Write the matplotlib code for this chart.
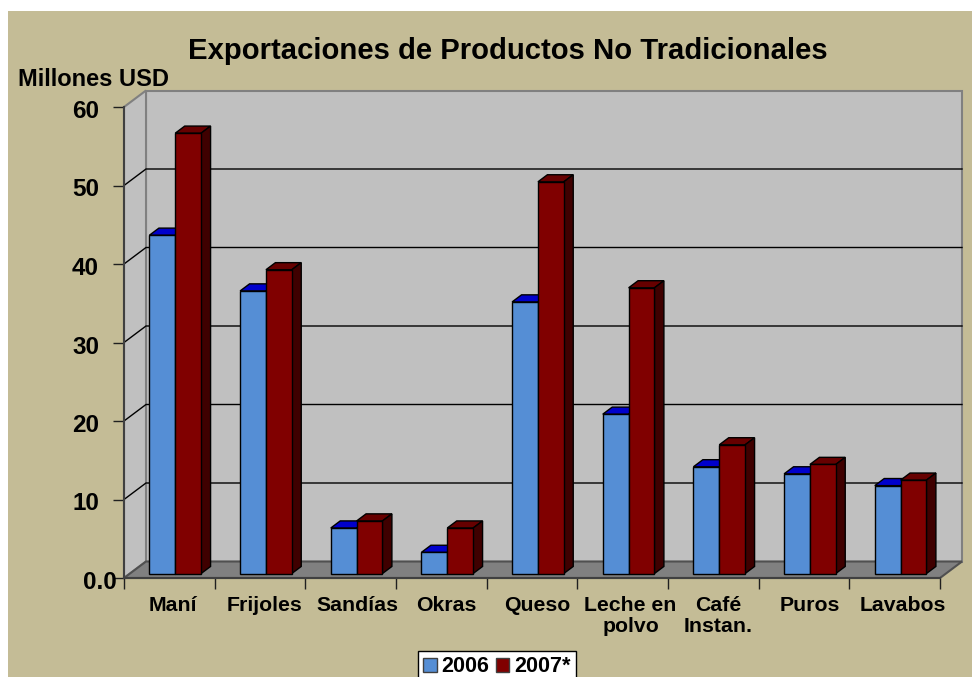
import matplotlib
matplotlib.use('Agg')
import matplotlib.pyplot as plt
from matplotlib.patches import Polygon, Rectangle
from matplotlib.transforms import ScaledTranslation

categories = ['Maní', 'Frijoles', 'Sandías', 'Okras', 'Queso', 'Leche en\npolvo',
              'Café\nInstan.', 'Puros', 'Lavabos']
values_2006 = [43.1, 36.0, 5.8, 2.7, 34.6, 20.3, 13.6, 12.7, 11.2]
values_2007 = [56.1, 38.7, 6.7, 5.8, 49.9, 36.4, 16.4, 13.9, 11.9]
y_ticks = [0, 10, 20, 30, 40, 50, 60]
y_tick_labels = ['0.0', '10', '20', '30', '40', '50', '60']

fig_w, fig_h = 972, 677
tan = '#C4BC96'
wall = '#C0C0C0'
floor_col = '#808080'

# front plane of the 3d box, in pixels
left, right, top, bottom = 124, 940, 107, 578
depth_x = 22 / ((right - left) / 9)   # in category units
depth_y = 16.5 / ((bottom - top) / 60)  # in value units

bar_w = 0.285
bar_front = 0.27
bar_back = 0.70

# x label offsets in pixels, the original ones are not quite centred
x_label_shift = [4, 5, 7, 5, 5, 8, 5, 6, 8]

plt.rcParams['font.family'] = ['Liberation Sans', 'DejaVu Sans']
plt.rcParams['font.weight'] = 'bold'

fig = plt.figure(figsize=(fig_w / 100, fig_h / 100), dpi=100, facecolor='white')
fig.add_artist(Rectangle((8 / fig_w, 0), 1, 1 - 11 / fig_h, transform=fig.transFigure,
                         facecolor=tan, edgecolor='none', zorder=-1))

ax = fig.add_axes((left / fig_w, 1 - bottom / fig_h, (right - left) / fig_w, (bottom - top) / fig_h))
ax.patch.set_visible(False)
ax.set_xlim(0, 9)
ax.set_ylim(0, 60)


def poly(points, fc, ec='black', lw=1.0, z=2):
    ax.add_patch(Polygon(points, closed=True, facecolor=fc, edgecolor=ec, linewidth=lw,
                         zorder=z, clip_on=False, joinstyle='miter'))


def nudge(label, px_x, px_y):
    label.set_transform(label.get_transform() + ScaledTranslation(px_x / 100, px_y / 100, fig.dpi_scale_trans))


# walls and floor
poly([(depth_x, depth_y), (9 + depth_x, depth_y), (9 + depth_x, 60 + depth_y), (depth_x, 60 + depth_y)],
     wall, ec='#808080', lw=1.5, z=1)
poly([(0, 0), (depth_x, depth_y), (depth_x, 60 + depth_y), (0, 60)], wall, ec='#808080', lw=1.5, z=1)
poly([(0, 0), (9, 0), (9 + depth_x, depth_y), (depth_x, depth_y)], floor_col, ec='#505050', lw=1.5, z=1)

# grid lines go along the left wall and then the back wall
for v in y_ticks[1:-1]:
    ax.plot([0, depth_x, 9 + depth_x], [v, v + depth_y, v + depth_y], color='black', lw=1.0,
            zorder=1.5, clip_on=False, solid_joinstyle='miter')


def bar3d(x, v, front, top_col, side):
    x0 = x + bar_front * depth_x
    x1 = x0 + bar_w
    y0 = bar_front * depth_y
    dx = (bar_back - bar_front) * depth_x
    dy = (bar_back - bar_front) * depth_y
    poly([(x0, y0 + v), (x1, y0 + v), (x1 + dx, y0 + v + dy), (x0 + dx, y0 + v + dy)], top_col)
    poly([(x1, y0), (x1 + dx, y0 + dy), (x1 + dx, y0 + v + dy), (x1, y0 + v)], side)
    poly([(x0, y0), (x1, y0), (x1, y0 + v), (x0, y0 + v)], front)


for i in range(len(categories)):
    start = i + 0.5 - bar_w
    bar3d(start, values_2006[i], '#558ED5', '#0000CC', '#00007F')
    bar3d(start + bar_w, values_2007[i], '#800000', '#660000', '#3F0000')

for s in ['top', 'right']:
    ax.spines[s].set_visible(False)
for s in ['left', 'bottom']:
    ax.spines[s].set_color('#404040')
    ax.spines[s].set_linewidth(1.5)
    ax.spines[s].set_zorder(3)

ax.set_yticks(y_ticks)
ax.set_yticklabels(y_tick_labels, fontsize=17.5, fontweight='bold')
ax.tick_params(axis='y', length=8, width=1.0, color='#202020', pad=10)

ax.set_xticks(range(10))
ax.set_xticklabels([])
ax.set_xticks([i + 0.5 for i in range(9)], minor=True)
ax.set_xticklabels(categories, minor=True, fontsize=15.3, fontweight='bold', linespacing=1.1)
ax.tick_params(axis='x', which='major', length=8, width=1.0, color='#202020')
ax.tick_params(axis='x', which='minor', length=0, pad=13)

# labels sit a little off their ticks in the original
for lab, t in zip(ax.get_yticklabels(), y_tick_labels):
    nudge(lab, 18 if t == '0.0' else 0, -2)
for lab, shift in zip(ax.get_xticklabels(minor=True), x_label_shift):
    nudge(lab, shift, 0)

fig.text(508 / fig_w, 1 - 51 / fig_h, 'Exportaciones de Productos No Tradicionales',
         fontsize=21.1, fontweight='bold', ha='center', va='center')
fig.text(18 / fig_w, 1 - 79 / fig_h, 'Millones USD', fontsize=17, fontweight='bold',
         ha='left', va='center')

handles = [Rectangle((0, 0), 1, 1, facecolor='#558ED5', edgecolor='#404040', lw=1.0),
           Rectangle((0, 0), 1, 1, facecolor='#800000', edgecolor='#404040', lw=1.0)]
leg = fig.legend(handles, ['2006', '2007*'], loc='center', ncol=2,
                 bbox_to_anchor=(497 / fig_w, 1 - 667 / fig_h), fontsize=15.5, fancybox=False,
                 framealpha=1, facecolor='white', edgecolor='black', handlelength=0.62,
                 handleheight=0.62, handletextpad=0.22, columnspacing=0.32, borderpad=0.25,
                 borderaxespad=0)
leg.get_frame().set_linewidth(1.0)

fig.savefig('out.png', dpi=100, facecolor='white')
